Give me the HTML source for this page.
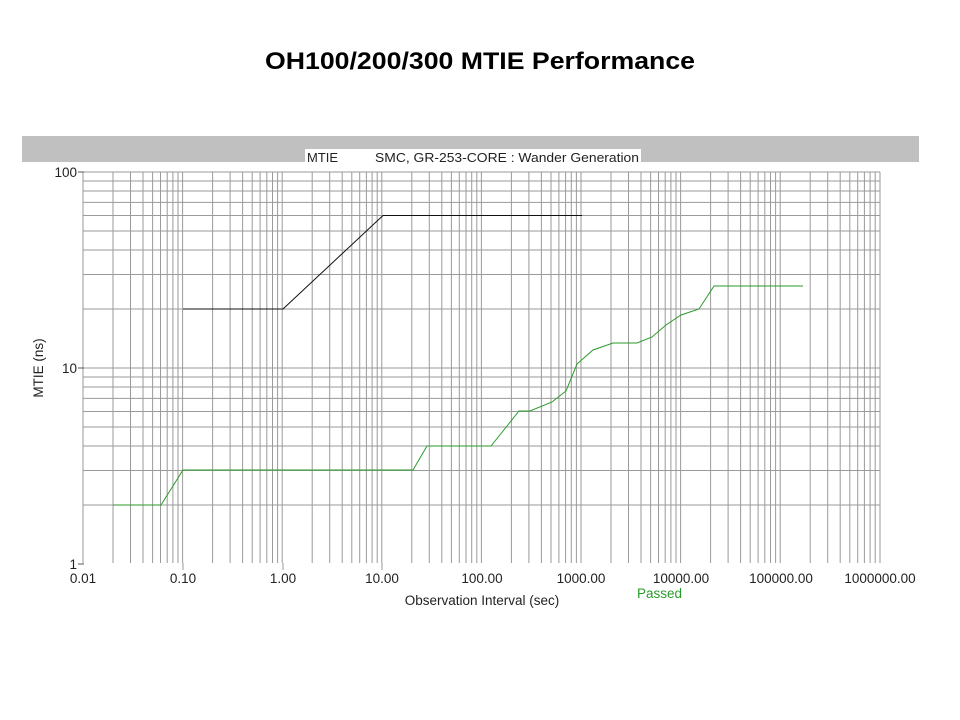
<!DOCTYPE html>
<html><head><meta charset="utf-8"><style>
body{margin:0;background:#fff;width:960px;height:720px;overflow:hidden}
svg{display:block}
</style></head><body>
<svg id="s" width="960" height="720" xmlns="http://www.w3.org/2000/svg" font-family="Liberation Sans, Arial, sans-serif">
<text x="265" y="69" font-size="24" font-weight="bold" fill="#000" textLength="430" lengthAdjust="spacingAndGlyphs">OH100/200/300 MTIE Performance</text>
<rect x="22" y="136" width="897" height="26" fill="#c0c0c0"/>
<rect x="305" y="149" width="336" height="15" fill="#fff"/>
<text x="307" y="162" font-size="13" fill="#222">MTIE</text>
<text x="375" y="162" font-size="13" fill="#222" textLength="264" lengthAdjust="spacingAndGlyphs">SMC, GR-253-CORE : Wander Generation</text>
<g id="grid" stroke="#9a9a9a" stroke-width="1"></g>
<g font-size="13.5" fill="#222">
<text x="77" y="177" text-anchor="end">100</text>
<text x="77" y="373" text-anchor="end">10</text>
<text x="77" y="569" text-anchor="end">1</text>
<text x="83" y="583" text-anchor="middle">0.01</text>
<text x="183" y="583" text-anchor="middle">0.10</text>
<text x="283" y="583" text-anchor="middle">1.00</text>
<text x="382" y="583" text-anchor="middle">10.00</text>
<text x="482" y="583" text-anchor="middle">100.00</text>
<text x="581" y="583" text-anchor="middle">1000.00</text>
<text x="681" y="583" text-anchor="middle">10000.00</text>
<text x="781" y="583" text-anchor="middle">100000.00</text>
<text x="880" y="583" text-anchor="middle">1000000.00</text>
<text x="482" y="605" text-anchor="middle">Observation Interval (sec)</text>
<text x="637" y="598" fill="#2a9a2a">Passed</text>
<text transform="translate(43,368) rotate(-90)" text-anchor="middle">MTIE (ns)</text>
</g>
<g stroke="#555" stroke-width="1">
<line x1="78" y1="172" x2="84" y2="172"/><line x1="78" y1="368" x2="84" y2="368"/><line x1="78" y1="564" x2="84" y2="564"/>
</g>
<polyline fill="none" stroke="#111" stroke-width="1" points="183,309 283,309 383,215.5 582,215.5"/>
<polyline fill="none" stroke="#2a9a2a" stroke-width="1" points="113,505 161,505 183,470 413,470 427,446 491,446 519,411 530,411 552,402 566,391 577,364 593,350 613,343 637,343 652,337 666,325 681,315 699,309 714,286 803,286"/>
</svg>
<script>
var g=document.getElementById('grid'),ns='http://www.w3.org/2000/svg';
function L(a,b,c,d){var l=document.createElementNS(ns,'line');l.setAttribute('x1',a);l.setAttribute('y1',b);l.setAttribute('x2',c);l.setAttribute('y2',d);g.appendChild(l);}
var X0=83,DX=99.6;
for(var d=0;d<8;d++)for(var m=1;m<10;m++){var x=X0+DX*(d+Math.log10(m));L(x.toFixed(1),172,x.toFixed(1),563);}
L(880,172,880,563);
for(var d=0;d<2;d++)for(var m=1;m<10;m++){var y=564-196*(d+Math.log10(m));if(d==0&&m==1)continue;L(83,y.toFixed(1),880,y.toFixed(1));}
L(83,172,880,172);
[183,283,382].forEach(function(x){L(x,563,x,570);});
</script>
</body></html>
